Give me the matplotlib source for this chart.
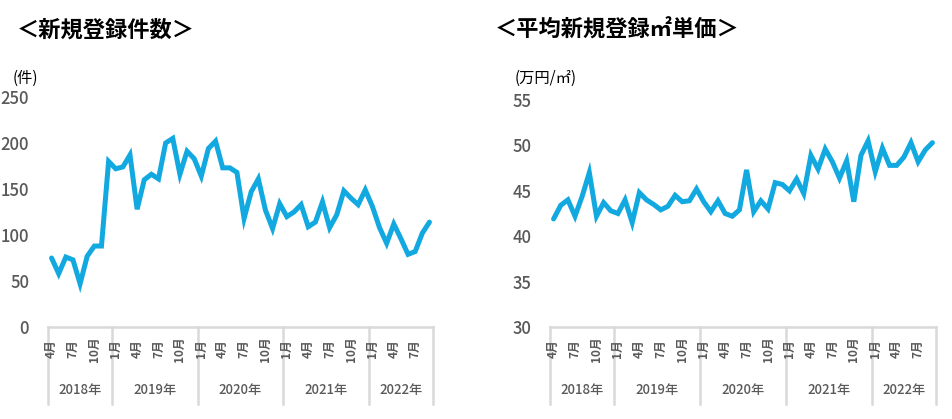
import matplotlib
matplotlib.use("Agg")
import matplotlib.pyplot as plt
from matplotlib.transforms import blended_transform_factory, ScaledTranslation

plt.rcParams['font.family'] = ['Noto Sans CJK JP', 'DejaVu Sans']

# ---- data (monthly, Apr 2018 - Sep 2022) ----
counts = [75, 58, 76, 73, 47, 77, 88, 88, 180,
          172, 174, 187, 128, 160, 166, 161, 200, 205, 166, 191, 183, 164,
          194, 202, 173, 173, 168, 118, 147, 161, 127, 107, 134, 120,
          125, 133, 109, 114, 136, 108, 122, 148, 140, 133, 149,
          131, 108, 91, 112, 96, 79, 82, 102, 114]
prices = [41.9, 43.4, 44.0, 42.2, 44.4, 47.0, 42.2, 43.7, 42.8,
          42.5, 44.0, 41.5, 44.8, 44.0, 43.5, 42.9, 43.3, 44.5, 43.8, 43.9, 45.2, 43.8,
          42.7, 43.9, 42.5, 42.2, 42.9, 47.3, 42.7, 43.9, 43.0, 45.9, 45.7, 45.0,
          46.3, 44.7, 48.9, 47.4, 49.6, 48.2, 46.4, 48.3, 43.8, 48.9, 50.5,
          47.1, 49.7, 47.8, 47.8, 48.7, 50.3, 48.2, 49.5, 50.3]
years = ["2018年", "2019年", "2020年", "2021年", "2022年"]
months_per_year = [9, 12, 12, 12, 9]
first_month = 4
month_labels = ["1月", "4月", "7月", "10月"]
month_numbers = [1, 4, 7, 10]

titles = ["＜新規登録件数＞", "＜平均新規登録㎡単価＞"]
units = ["(件)", "(万円/㎡)"]
yticks = [[0, 50, 100, 150, 200, 250], [30, 35, 40, 45, 50, 55]]

LINE = "#12A8E0"
GRAY = "#D9D9D9"
TXT = "#595959"

W, H = 953, 419
fig = plt.figure(figsize=(W / 100, H / 100), dpi=100)

# axes boxes in pixels: (left, right, top, bottom)
boxes = [(48, 433, 97, 327), (550, 936, 100, 327)]
label_pads = [13.5, 13.0]
series = [counts, prices]
n = len(counts)
month_of = [((first_month - 1 + i) % 12) + 1 for i in range(n)]

for k, (l, r, t, b) in enumerate(boxes):
    ax = fig.add_axes([l / W, 1 - b / H, (r - l) / W, (b - t) / H])
    ax.plot(range(n), series[k], color=LINE, lw=3.6, solid_joinstyle='miter',
            solid_capstyle='round')
    ax.set_xlim(-0.5, n - 0.5)
    ax.set_ylim(yticks[k][0], yticks[k][-1])
    ax.set_yticks(yticks[k])
    ax.tick_params(axis='y', length=0, pad=label_pads[k], labelsize=12,
                   labelcolor=TXT)
    for lbl in ax.get_yticklabels():
        lbl.set_fontweight('medium')
    ax.set_xticks([])
    for s in ['top', 'right', 'left']:
        ax.spines[s].set_visible(False)
    ax.spines['bottom'].set_color(GRAY)
    ax.spines['bottom'].set_linewidth(1.8)

    base = blended_transform_factory(ax.transData, ax.transAxes)

    def off(dy_px):
        return base + ScaledTranslation(0, -dy_px / 100, fig.dpi_scale_trans)

    # year separators
    edges = [-0.5]
    for m in months_per_year:
        edges.append(edges[-1] + m)
    for e in edges:
        ax.plot([e, e], [0, -77 / (b - t)], transform=base, color=GRAY,
                lw=1.8, clip_on=False)

    # month labels
    for i in range(n):
        if month_of[i] in month_numbers:
            lab = month_labels[month_numbers.index(month_of[i])]
            ax.text(i, 0, lab, transform=off(22), rotation=90, ha='center',
                    va='center', fontsize=8.5, fontweight='bold', color=TXT)
    # year labels
    for j, y in enumerate(years):
        cx = (edges[j] + edges[j + 1]) / 2
        ax.text(cx, 0, y, transform=off(63), ha='center', va='center',
                fontsize=9.5, fontweight='medium', color=TXT)

fig.text(17 / W, 1 - 30 / H, titles[0], fontsize=16, fontweight='bold',
         ha='left', va='center', color='black')
fig.text(495 / W, 1 - 30 / H, titles[1], fontsize=16, fontweight='bold',
         ha='left', va='center', color='black')
fig.text(13 / W, 1 - 78 / H, units[0], fontsize=11, ha='left', va='center',
         color='black')
fig.text(515 / W, 1 - 78 / H, units[1], fontsize=11, ha='left', va='center',
         color='black')

fig.savefig("out.png", dpi=100, facecolor='white')
